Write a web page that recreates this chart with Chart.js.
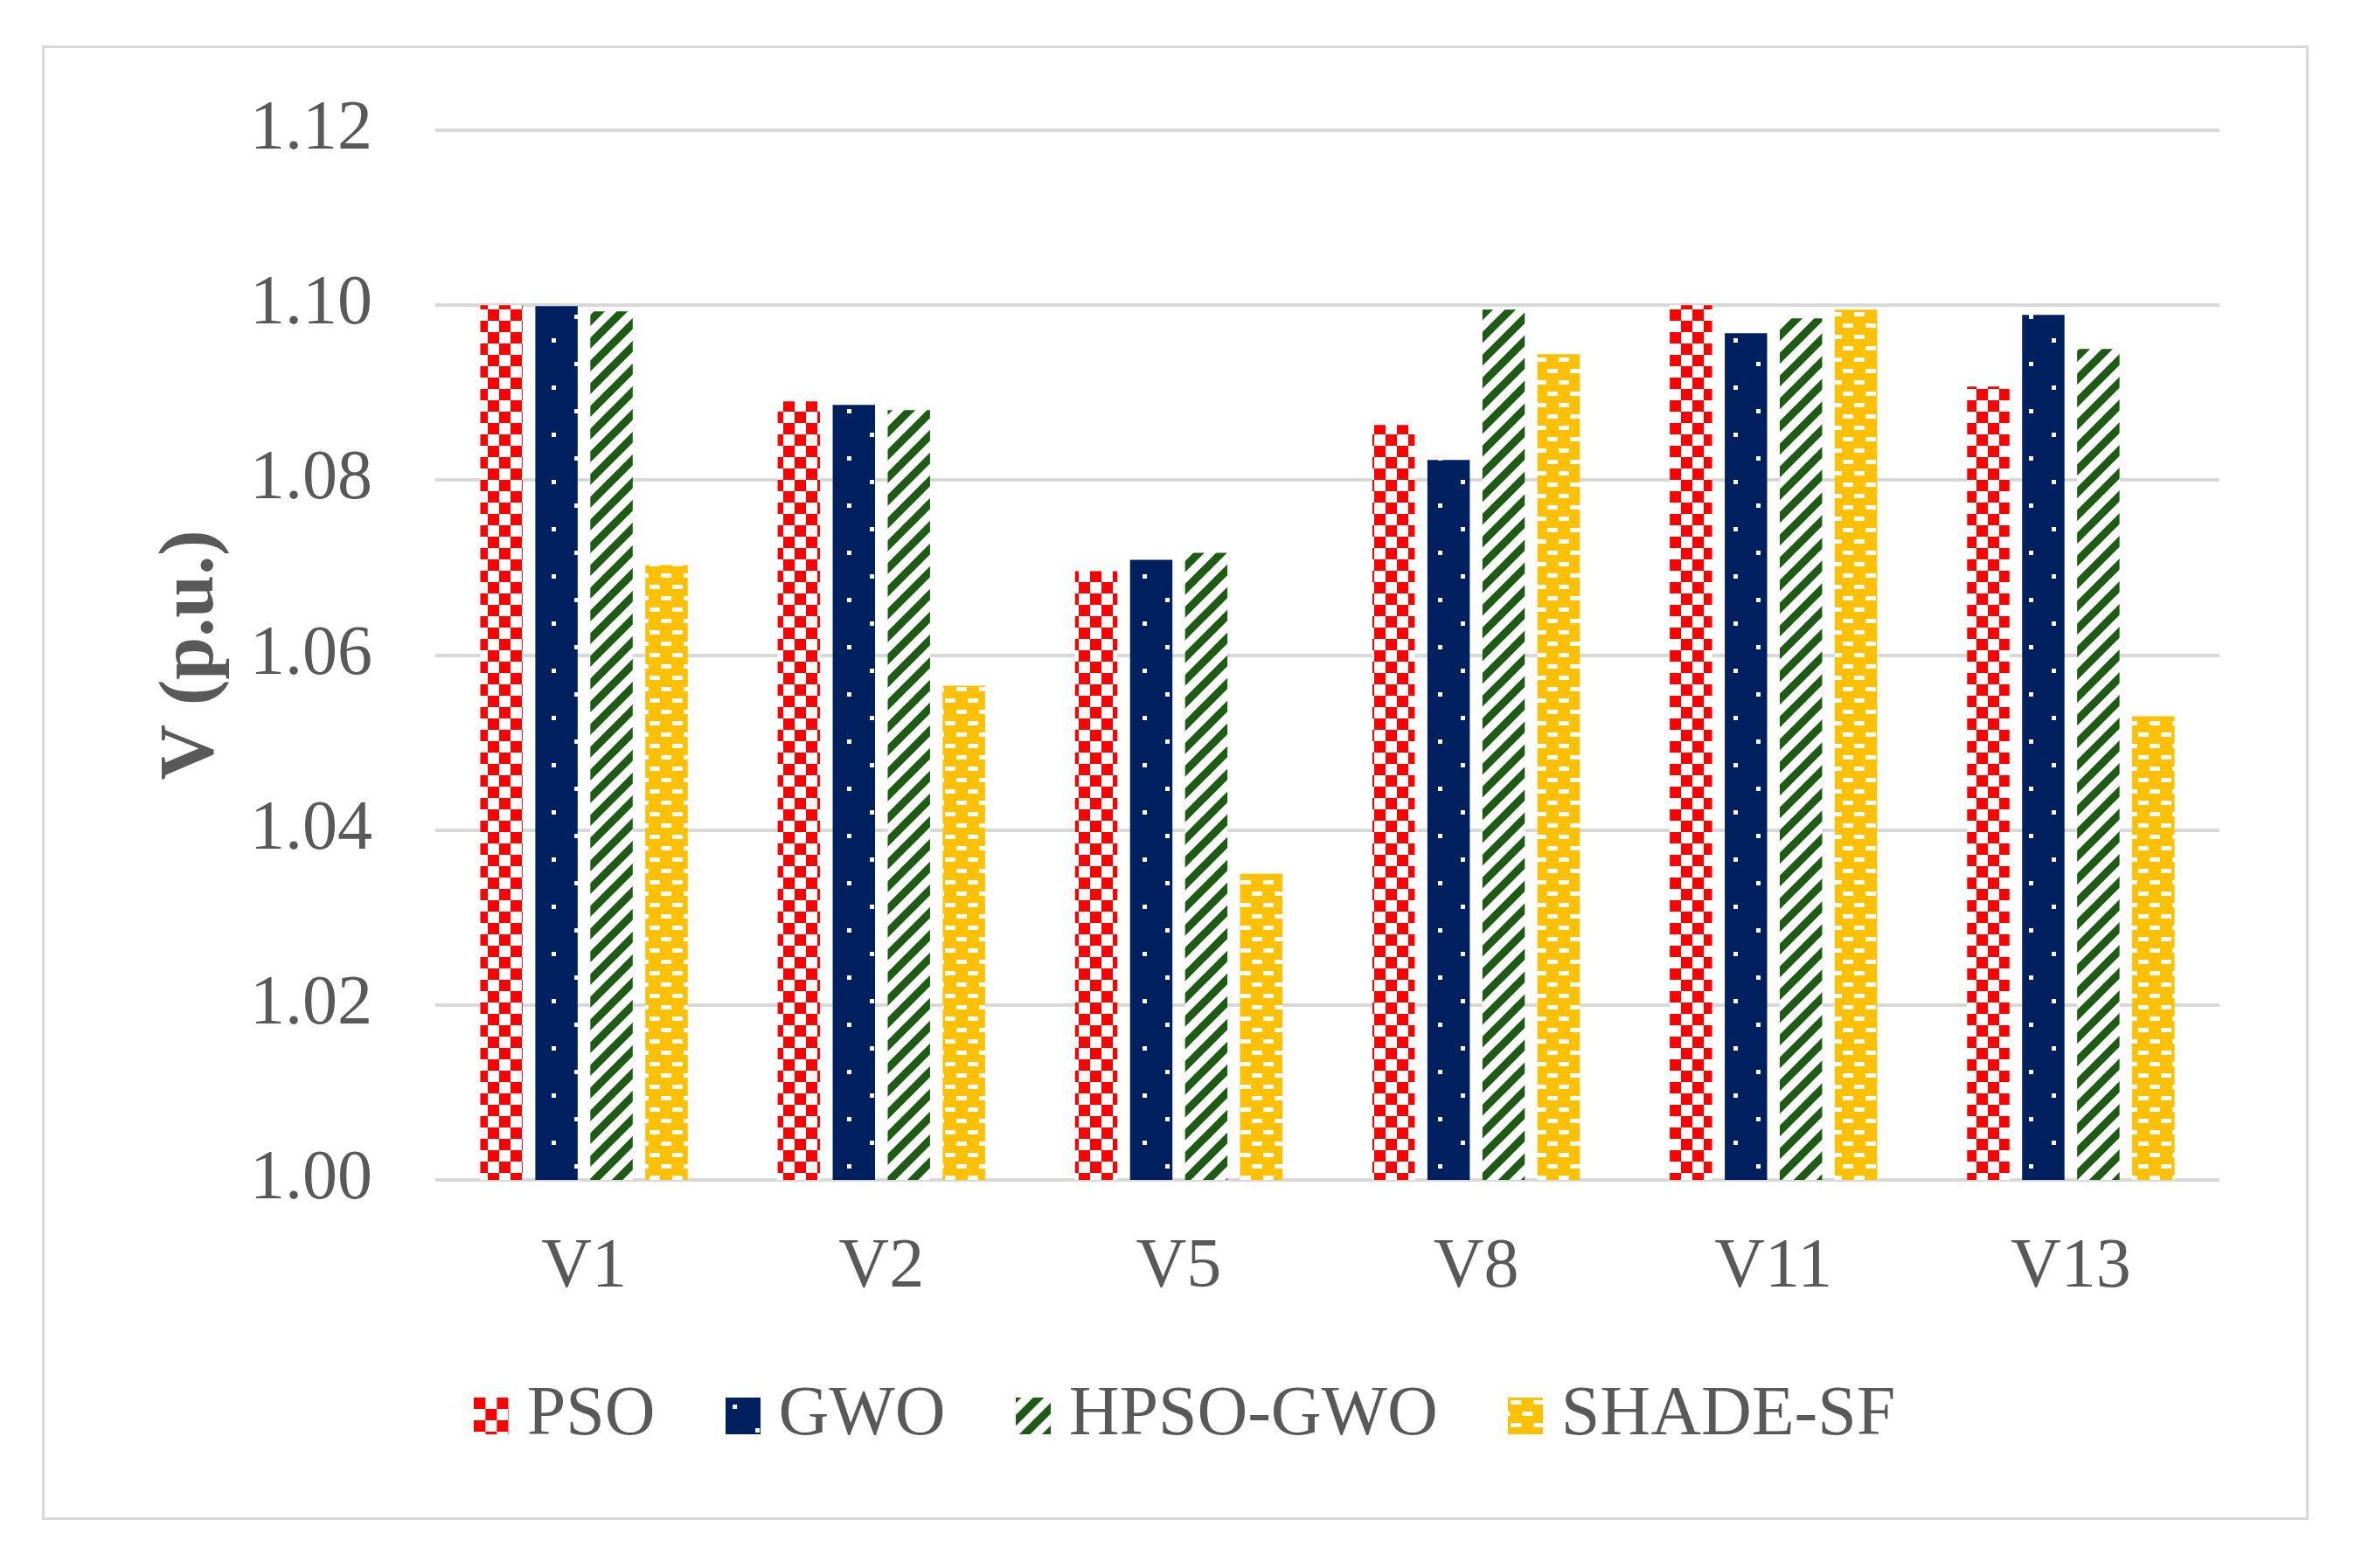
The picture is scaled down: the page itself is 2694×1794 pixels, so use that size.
<!DOCTYPE html>
<html>
<head>
<meta charset="utf-8">
<script src="https://cdn.jsdelivr.net/npm/chart.js@4/dist/chart.umd.min.js"></script>
<style>
  html, body { margin: 0; padding: 0; background: #ffffff; }
  #frame {
    position: absolute; left: 48px; top: 52px; width: 2593px; height: 1687px;
    border: 3px solid #d9d9d9; box-sizing: border-box; background: #ffffff;
  }
  #wrap { position: absolute; left: 0; top: 0; width: 2587px; height: 1681px; }
</style>
</head>
<body>
<div id="frame"><div id="wrap"><canvas id="c"></canvas></div></div>
<script>
// ---- data ----
const categories = ['V1', 'V2', 'V5', 'V8', 'V11', 'V13'];
const seriesNames = ['PSO', 'GWO', 'HPSO-GWO', 'SHADE-SF'];
const psoValues   = [1.1000, 1.0890, 1.0696, 1.0863, 1.1000, 1.0907];
const gwoValues   = [1.0999, 1.0886, 1.0709, 1.0823, 1.0968, 1.0989];
const hpsoValues  = [1.0993, 1.0880, 1.0717, 1.0995, 1.0985, 1.0950];
const shadeValues = [1.0703, 1.0565, 1.0350, 1.0944, 1.0995, 1.0530];
const yMin = 1.00, yMax = 1.12, yStep = 0.02;

// ---- styles ----
const TEXT = '#595959';
const GRID = '#d9d9d9';
const FONT = "'Liberation Serif', 'Times New Roman', serif";

const canvas = document.getElementById('c');
const mainCtx = canvas.getContext('2d');

function makeTile(w, h, draw) {
  const t = document.createElement('canvas');
  t.width = w; t.height = h;
  draw(t.getContext('2d'));
  return t;
}

const tiles = [
  makeTile(26, 26, (g) => {
    g.fillStyle = '#ffffff'; g.fillRect(0, 0, 26, 26);
    g.fillStyle = '#ff0000';
    g.fillRect(0, 0, 13, 13); g.fillRect(13, 13, 13, 13);
  }),
  makeTile(52, 54, (g) => {
    g.fillStyle = '#002060'; g.fillRect(0, 0, 52, 54);
    g.fillStyle = '#ffffff';
    g.fillRect(8, 8, 5, 5); g.fillRect(34, 35, 5, 5);
  }),
  makeTile(26, 26, (g) => {
    g.fillStyle = '#ffffff'; g.fillRect(0, 0, 26, 26);
    g.strokeStyle = '#1e5b14'; g.lineWidth = 9;
    g.beginPath();
    g.moveTo(-13, 13); g.lineTo(13, -13);
    g.moveTo(-13, 39); g.lineTo(39, -13);
    g.moveTo(13, 39); g.lineTo(39, 13);
    g.stroke();
  }),
  makeTile(26, 26, (g) => {
    g.fillStyle = '#ffc000'; g.fillRect(0, 0, 26, 26);
    g.fillStyle = '#ffffff';
    g.fillRect(3, 3, 12, 5);
    g.fillRect(16, 16, 12, 5); g.fillRect(-10, 16, 12, 5);
  })
];

const patterns = tiles.map((t) => mainCtx.createPattern(t, 'repeat'));
const legendImages = tiles.map((t) => makeTile(40, 42, (g) => {
  g.fillStyle = g.createPattern(t, 'repeat');
  g.fillRect(0, 0, 40, 42);
}));

const seriesValues = [psoValues, gwoValues, hpsoValues, shadeValues];

const datasets = seriesNames.map((name, i) => ({
  label: name,
  data: seriesValues[i],
  backgroundColor: patterns[i],
  borderWidth: 0,
  categoryPercentage: 0.74,
  barPercentage: 0.77
}));

new Chart(canvas, {
  type: 'bar',
  data: { labels: categories, datasets },
  options: {
    responsive: true,
    maintainAspectRatio: false,
    devicePixelRatio: 1,
    animation: false,
    layout: { padding: { left: 140, right: 99, top: 94, bottom: 66 } },
    plugins: {
      tooltip: { enabled: false },
      legend: {
        position: 'bottom',
        labels: {
          color: TEXT,
          font: { family: FONT, size: 80 },
          usePointStyle: true,
          boxWidth: 1,
          boxHeight: 42,
          padding: 100,
          generateLabels: (chart) => {
            const items = Chart.defaults.plugins.legend.labels.generateLabels(chart);
            items.forEach((it) => { it.pointStyle = legendImages[it.datasetIndex]; it.lineWidth = 0; });
            return items;
          }
        }
      }
    },
    scales: {
      x: {
        grid: { display: false },
        border: { display: false },
        ticks: { color: TEXT, font: { family: FONT, size: 80 }, padding: 45, maxRotation: 0 },
        afterFit: (s) => { s.height = 130; }
      },
      y: {
        min: yMin,
        max: yMax,
        border: { display: false },
        grid: { color: GRID, lineWidth: 4, drawTicks: true, tickLength: 72, tickColor: 'rgba(0,0,0,0)' },
        ticks: {
          stepSize: yStep,
          color: TEXT,
          font: { family: FONT, size: 80 },
          padding: 0,
          callback: (v) => Number(v).toFixed(2)
        },
        title: {
          display: true,
          text: 'V (p.u.)',
          color: TEXT,
          font: { family: FONT, size: 88, weight: 'bold', lineHeight: 0.02 },
          padding: { top: 28, bottom: 0 }
        },
        afterFit: (s) => { s.width = 307; }
      }
    }
  }
});
</script>
</body>
</html>
